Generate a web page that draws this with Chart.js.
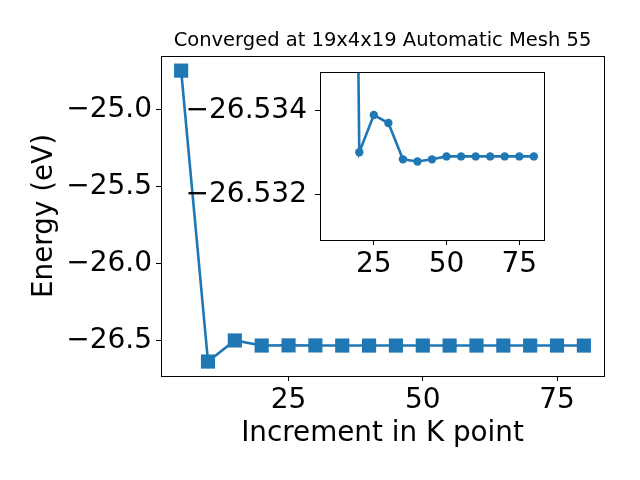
<!DOCTYPE html>
<html>
<head>
<meta charset="utf-8">
<script src="https://cdn.jsdelivr.net/npm/chart.js@4"></script>
<style>
  html, body { margin: 0; padding: 0; background: #fff; }
  #wrap { position: relative; width: 640px; height: 480px; }
  #mainChart { position: absolute; left: 0; top: 0; }
  #insetChart { position: absolute; left: 170px; top: 60px; }
</style>
</head>
<body>
<div id="wrap">
  <canvas id="mainChart" width="640" height="480"></canvas>
  <canvas id="insetChart" width="390" height="240"></canvas>
</div>
<script>
// k-point increments and total energies (eV)
const kpoints = [5, 10, 15, 20, 25, 30, 35, 40, 45, 50, 55, 60, 65, 70, 75, 80];
const energies = [-24.746, -26.637, -26.500, -26.53299, -26.53210, -26.53229, -26.53316,
  -26.53321, -26.53316, -26.53309, -26.53309, -26.53309, -26.53309, -26.53309, -26.53309, -26.53309];

const xTicks = [25, 50, 75];
const yTicks = [-26.5, -26.0, -25.5, -25.0];
const insetXTicks = [25, 50, 75];
const insetYTicks = [-26.534, -26.532];
const insetYTickLabels = ['\u221226.532', '\u221226.534'];

const BLUE = '#1f77b4';
Chart.defaults.font.family = "'DejaVu Sans', sans-serif";
Chart.defaults.color = '#000';

const minus = s => s.replace('-', '\u2212');

const frame = {
  id: 'frame',
  afterDraw(chart) {
    const { ctx, chartArea: a } = chart;
    ctx.save();
    ctx.strokeStyle = '#000';
    ctx.lineWidth = 1;
    ctx.strokeRect(Math.round(a.left) + 0.5, Math.round(a.top) + 0.5,
      Math.round(a.right - a.left), Math.round(a.bottom - a.top));
    ctx.restore();
  }
};

const tickGrid = { drawOnChartArea: false, drawTicks: true, tickLength: 5, color: '#000', lineWidth: 1 };
const noPad = s => { s.paddingTop = 0; s.paddingBottom = 0; s.paddingLeft = 0; s.paddingRight = 0; };

new Chart(document.getElementById('mainChart'), {
  type: 'line',
  data: {
    datasets: [{
      data: kpoints.map((k, i) => ({ x: k, y: energies[i] })),
      borderColor: BLUE, backgroundColor: BLUE, borderWidth: 2.6,
      pointStyle: 'rect', pointRadius: 10, pointBorderWidth: 0,
      pointBackgroundColor: BLUE, tension: 0
    }]
  },
  options: {
    responsive: false, animation: false, devicePixelRatio: 1,
    layout: { padding: { top: 29, right: 36, left: 0, bottom: 0 } },
    plugins: {
      legend: { display: false }, tooltip: { enabled: false },
      title: {
        display: true, fullSize: false, text: 'Converged at 19x4x19 Automatic Mesh 55',
        color: '#000', font: { size: 19.5, weight: 'normal' }, padding: { top: 0, bottom: 3.6 }
      }
    },
    scales: {
      x: {
        type: 'linear', min: 1.25, max: 83.75,
        afterBuildTicks: s => { s.ticks = xTicks.map(v => ({ value: v })); },
        afterFit: s => { noPad(s); s.height = 104; },
        ticks: { font: { size: 28 }, padding: 3, maxRotation: 0, callback: v => String(v) },
        grid: tickGrid, border: { display: false },
        title: { display: true, text: 'Increment in K point', font: { size: 27.8 }, padding: { top: 0, bottom: 30 } }
      },
      y: {
        type: 'linear', min: -26.731, max: -24.651,
        afterBuildTicks: s => { s.ticks = yTicks.map(v => ({ value: v })); },
        afterFit: s => { noPad(s); s.width = 161; },
        ticks: { font: { size: 28 }, padding: 4, callback: v => minus(v.toFixed(1)) },
        grid: tickGrid, border: { display: false },
        title: { display: true, text: 'Energy (eV)', font: { size: 27.8 }, padding: { top: 28, bottom: 0 } }
      }
    }
  },
  plugins: [frame]
});

new Chart(document.getElementById('insetChart'), {
  type: 'line',
  data: {
    datasets: [{
      data: kpoints.slice(2).map((k, i) => ({ x: k, y: energies[i + 2] })),
      borderColor: BLUE, backgroundColor: BLUE, borderWidth: 2.6,
      pointStyle: 'circle', pointRadius: 4.2, pointBorderWidth: 0,
      pointBackgroundColor: BLUE, tension: 0
    }]
  },
  options: {
    responsive: false, animation: false, devicePixelRatio: 1,
    layout: { padding: { top: 12, right: 16, left: 0, bottom: 0 } },
    plugins: { legend: { display: false }, tooltip: { enabled: false } },
    scales: {
      x: {
        type: 'linear', min: 6.5, max: 83.5,
        afterBuildTicks: s => { s.ticks = insetXTicks.map(v => ({ value: v })); },
        afterFit: s => { noPad(s); s.height = 60; },
        ticks: { font: { size: 28 }, padding: 3, maxRotation: 0, callback: v => String(v) },
        grid: tickGrid, border: { display: false }
      },
      y: {
        type: 'linear', min: -26.53509, max: -26.53107,
        afterBuildTicks: s => { s.ticks = insetYTicks.map(v => ({ value: v })); },
        afterFit: s => { noPad(s); s.width = 150; },
        ticks: { font: { size: 28 }, padding: 8, callback: (v, i) => insetYTickLabels[i] },
        grid: tickGrid, border: { display: false }
      }
    }
  },
  plugins: [frame]
});
</script>
</body>
</html>
